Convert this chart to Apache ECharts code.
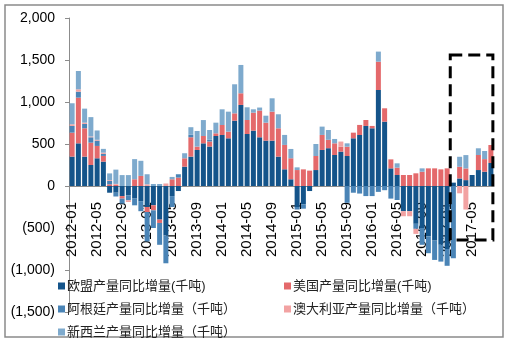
<!DOCTYPE html>
<html><head><meta charset="utf-8">
<script src="https://cdn.jsdelivr.net/npm/echarts@6/dist/echarts.min.js"></script>
<style>html,body{margin:0;padding:0;background:#fff}#c{width:511px;height:344px}</style>
</head><body><div id="c"></div>
<script>
var categories = ['2012-01','2012-02','2012-03','2012-04','2012-05','2012-06','2012-07','2012-08','2012-09','2012-10','2012-11','2012-12',
'2013-01','2013-02','2013-03','2013-04','2013-05','2013-06','2013-07','2013-08','2013-09','2013-10','2013-11','2013-12',
'2014-01','2014-02','2014-03','2014-04','2014-05','2014-06','2014-07','2014-08','2014-09','2014-10','2014-11','2014-12',
'2015-01','2015-02','2015-03','2015-04','2015-05','2015-06','2015-07','2015-08','2015-09','2015-10','2015-11','2015-12',
'2016-01','2016-02','2016-03','2016-04','2016-05','2016-06','2016-07','2016-08','2016-09','2016-10','2016-11','2016-12',
'2017-01','2017-02','2017-03','2017-04','2017-05','2017-06','2017-07','2017-08'];
var euValues  = [350,508,350,250,330,290,-80,-80,-120,-110,-150,-180, -250,-230,-400,-590,-120,-60,230,350,429,508,470,595,
                 607,568,778,965,619,659,580,540,540,350,199,80, -250,-220,-60,190,429,450,369,409,357,568,607,715,
                 687,1143,766,210,131,-300,-300,-450,-500,-600,-650,-700,-750,40,90,70,131,190,170,274];
var usValues  = [285,544,337,266,147,68,20,15,-30,0,80,120, -60,-60,-40,0,80,100,100,230,40,87,60,32,
                 119,79,87,139,167,214,318,214,345,337,290,250, 190,198,183,167,179,100,139,60,111,67,120,71,
                 28,337,159,107,87,131,131,151,170,210,210,198,210,0,139,139,0,179,150,214];
var argValues = [80,71,52,64,63,24,40,-45,-60,-60,-80,-120, -350,-210,-260,-330,-130,40,0,30,0,0,20,0,
                 0,0,0,0,0,0,0,0,0,0,0,0, -30,-50,0,0,0,0,0,0,-200,-80,-90,-120,
                 -120,-70,-50,-150,-167,0,0,-60,-200,-200,-230,-200,-200,-860,0,0,0,0,0,0];
var ausValues = [20,28,15,10,10,15,10,10,0,-20,0,0, 20,0,0,30,0,0,0,0,0,0,0,0,
                 0,0,0,0,0,0,0,0,0,0,0,0, 0,0,0,0,0,0,0,60,0,0,0,0,
                 0,0,0,0,0,-60,-60,-60,0,0,0,0,0,0,-87,-280,0,0,0,0];
var nzValues  = [250,218,167,230,111,45,80,170,130,130,240,180, 120,24,24,0,28,0,60,90,186,190,117,127,
                 187,238,346,337,151,40,36,83,159,167,119,111, 32,0,0,143,99,117,52,0,40,0,0,0,
                 0,120,0,0,52,0,0,0,40,0,0,0,0,0,119,159,0,80,97,0];
var yTicks = {min:-1500, max:2000, step:500};
var seriesNames = ['欧盟产量同比增量(千吨)','美国产量同比增量(千吨)','阿根廷产量同比增量（千吨）','澳大利亚产量同比增量（千吨）','新西兰产量同比增量（千吨）'];
var seriesColors = ['#14548a','#e4696b','#4a84b6','#f2a2a2','#7eaacd'];
var seriesData = [euValues, usValues, argValues, ausValues, nzValues];

function fmt(v){
  var a = Math.abs(v).toString().replace(/\B(?=(\d{3})+(?!\d))/g, ',');
  return v < 0 ? '(' + a + ')' : a;
}
var FONT = '"Liberation Sans", Arial, "Noto Sans CJK SC", sans-serif';
var GRID_H = 294;
var zeroOffset = -GRID_H * (0 - yTicks.min) / (yTicks.max - yTicks.min);
var chart = echarts.init(document.getElementById('c'), null, {renderer:'canvas'});
var series = seriesNames.map(function(n, k){
  return {name:n, type:'bar', stack:'all', data:seriesData[k], barWidth:5, z:5,
    itemStyle:{color:seriesColors[k]}, emphasis:{disabled:true}, animation:false};
});
chart.setOption({
  animation:false,
  textStyle:{fontFamily:FONT},
  grid:{left:69, top:18, width:425, height:GRID_H, containLabel:false, outerBoundsMode:'none'},
  xAxis:{type:'category', data:categories, position:'bottom', offset:zeroOffset, z:0,
    axisLine:{onZero:false, lineStyle:{color:'#8c8c8c', width:1}},
    axisTick:{show:false},
    axisLabel:{interval:3, rotate:90, margin:16, fontSize:15, color:'#000', fontFamily:FONT}},
  yAxis:{type:'value', min:yTicks.min, max:yTicks.max, interval:yTicks.step,
    splitLine:{show:false},
    axisLine:{show:true, lineStyle:{color:'#8c8c8c'}},
    axisTick:{show:true, length:4, lineStyle:{color:'#8c8c8c'}},
    axisLabel:{formatter:fmt, fontSize:14, color:'#000', margin:14, fontFamily:FONT}},
  legend:[
    {data:[seriesNames[0], seriesNames[2], seriesNames[4]], orient:'vertical', left:53, top:274,
     itemWidth:7, itemHeight:7, itemGap:9, icon:'rect', selectedMode:false,
     textStyle:{fontSize:13, color:'#222', lineHeight:14, padding:[0,0,0,-3], fontFamily:FONT}},
    {data:[seriesNames[1], seriesNames[3]], orient:'vertical', left:279, top:274,
     itemWidth:7, itemHeight:7, itemGap:9, icon:'rect', selectedMode:false,
     textStyle:{fontSize:13, color:'#222', lineHeight:14, padding:[0,0,0,-3], fontFamily:FONT}}
  ],
  series:series
});
var p1 = chart.convertToPixel({xAxisIndex:0, yAxisIndex:0}, [60, 1560]);
var p2 = chart.convertToPixel({xAxisIndex:0, yAxisIndex:0}, [61, -643]);
var p3 = chart.convertToPixel({xAxisIndex:0, yAxisIndex:0}, [67, 0]);
var bx = (p1[0] + p2[0]) / 2, bx2 = p3[0] + 2;
chart.setOption({graphic:[
  {type:'rect', shape:{x:5, y:5, width:498, height:332}, style:{fill:null, stroke:'#8a8a8a', lineWidth:1.5}, silent:true},
  {type:'rect', shape:{x:bx, y:p1[1], width:bx2 - bx, height:p2[1] - p1[1]},
   style:{fill:null, stroke:'#000', lineWidth:3, lineDash:[12,6]}, silent:true, z:100}
]});
</script></body></html>
